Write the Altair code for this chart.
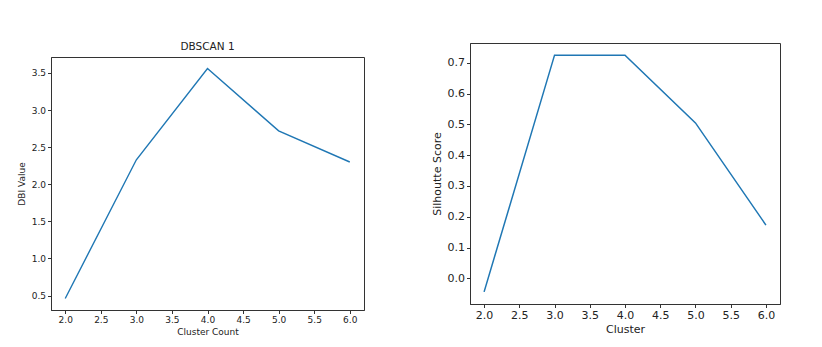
import altair as alt
import pandas as pd

clusters = [2, 3, 4, 5, 6]
dbi_values = [0.46, 2.33, 3.56, 2.72, 2.30]
silhouette = [-0.044, 0.725, 0.725, 0.505, 0.173]
left_title = ["DBSCAN 1"]

df1 = pd.DataFrame({"Cluster": clusters, "DBI": dbi_values})
df2 = pd.DataFrame({"Cluster": clusters, "Sil": silhouette})
dft = pd.DataFrame({"t": left_title})

LINE = "#1f77b4"
FONT = "DejaVu Sans"
x_ticks = [2.0, 2.5, 3.0, 3.5, 4.0, 4.5, 5.0, 5.5, 6.0]
y1_ticks = [0.5, 1.0, 1.5, 2.0, 2.5, 3.0, 3.5]
y2_ticks = [0.0, 0.1, 0.2, 0.3, 0.4, 0.5, 0.6, 0.7]

title_chart = alt.Chart(dft).mark_text(
    fontSize=10.5, font=FONT, color="#222", baseline="middle", align="center"
).encode(
    text="t:N", x=alt.value(156.5), y=alt.value(4)
).properties(width=313, height=13, view=alt.ViewBackground(stroke=None))

left = alt.Chart(df1).mark_line(color=LINE, strokeWidth=1.4).encode(
    x=alt.X("Cluster:Q", scale=alt.Scale(domain=[1.8, 6.2], nice=False, zero=False),
            axis=alt.Axis(values=x_ticks, format=".1f", title="Cluster Count",
                          labelFontSize=9, titleFontSize=9, titlePadding=3)),
    y=alt.Y("DBI:Q", scale=alt.Scale(domain=[0.305, 3.715], nice=False, zero=False),
            axis=alt.Axis(values=y1_ticks, format=".1f", title="DBI Value",
                          labelFontSize=9, titleFontSize=9, titlePadding=5)),
).properties(width=313, height=253)

right = alt.Chart(df2).mark_line(color=LINE, strokeWidth=1.5).encode(
    x=alt.X("Cluster:Q", scale=alt.Scale(domain=[1.8, 6.2], nice=False, zero=False),
            axis=alt.Axis(values=x_ticks, format=".1f", title="Cluster",
                          labelFontSize=11, titleFontSize=11, titlePadding=3)),
    y=alt.Y("Sil:Q", scale=alt.Scale(domain=[-0.0835, 0.7645], nice=False, zero=False),
            axis=alt.Axis(values=y2_ticks, format=".1f", title="Silhoutte Score",
                          labelFontSize=11, titleFontSize=11, titlePadding=5)),
).properties(width=310, height=261)

left_col = alt.vconcat(title_chart, left, spacing=0)

chart = alt.hconcat(left_col, right, spacing=65).properties(
    padding={"left": 16, "top": 42, "right": 10, "bottom": 5},
    background="white",
).configure_view(stroke="#333", strokeWidth=1).configure_axis(
    grid=False, domainColor="#333", tickColor="#333", tickSize=3.5,
    labelColor="#222", titleColor="#222", labelFont=FONT, titleFont=FONT,
    titleFontWeight="normal", labelPadding=2,
)

chart.save("out.html", embed_options={"renderer": "svg", "actions": False})
